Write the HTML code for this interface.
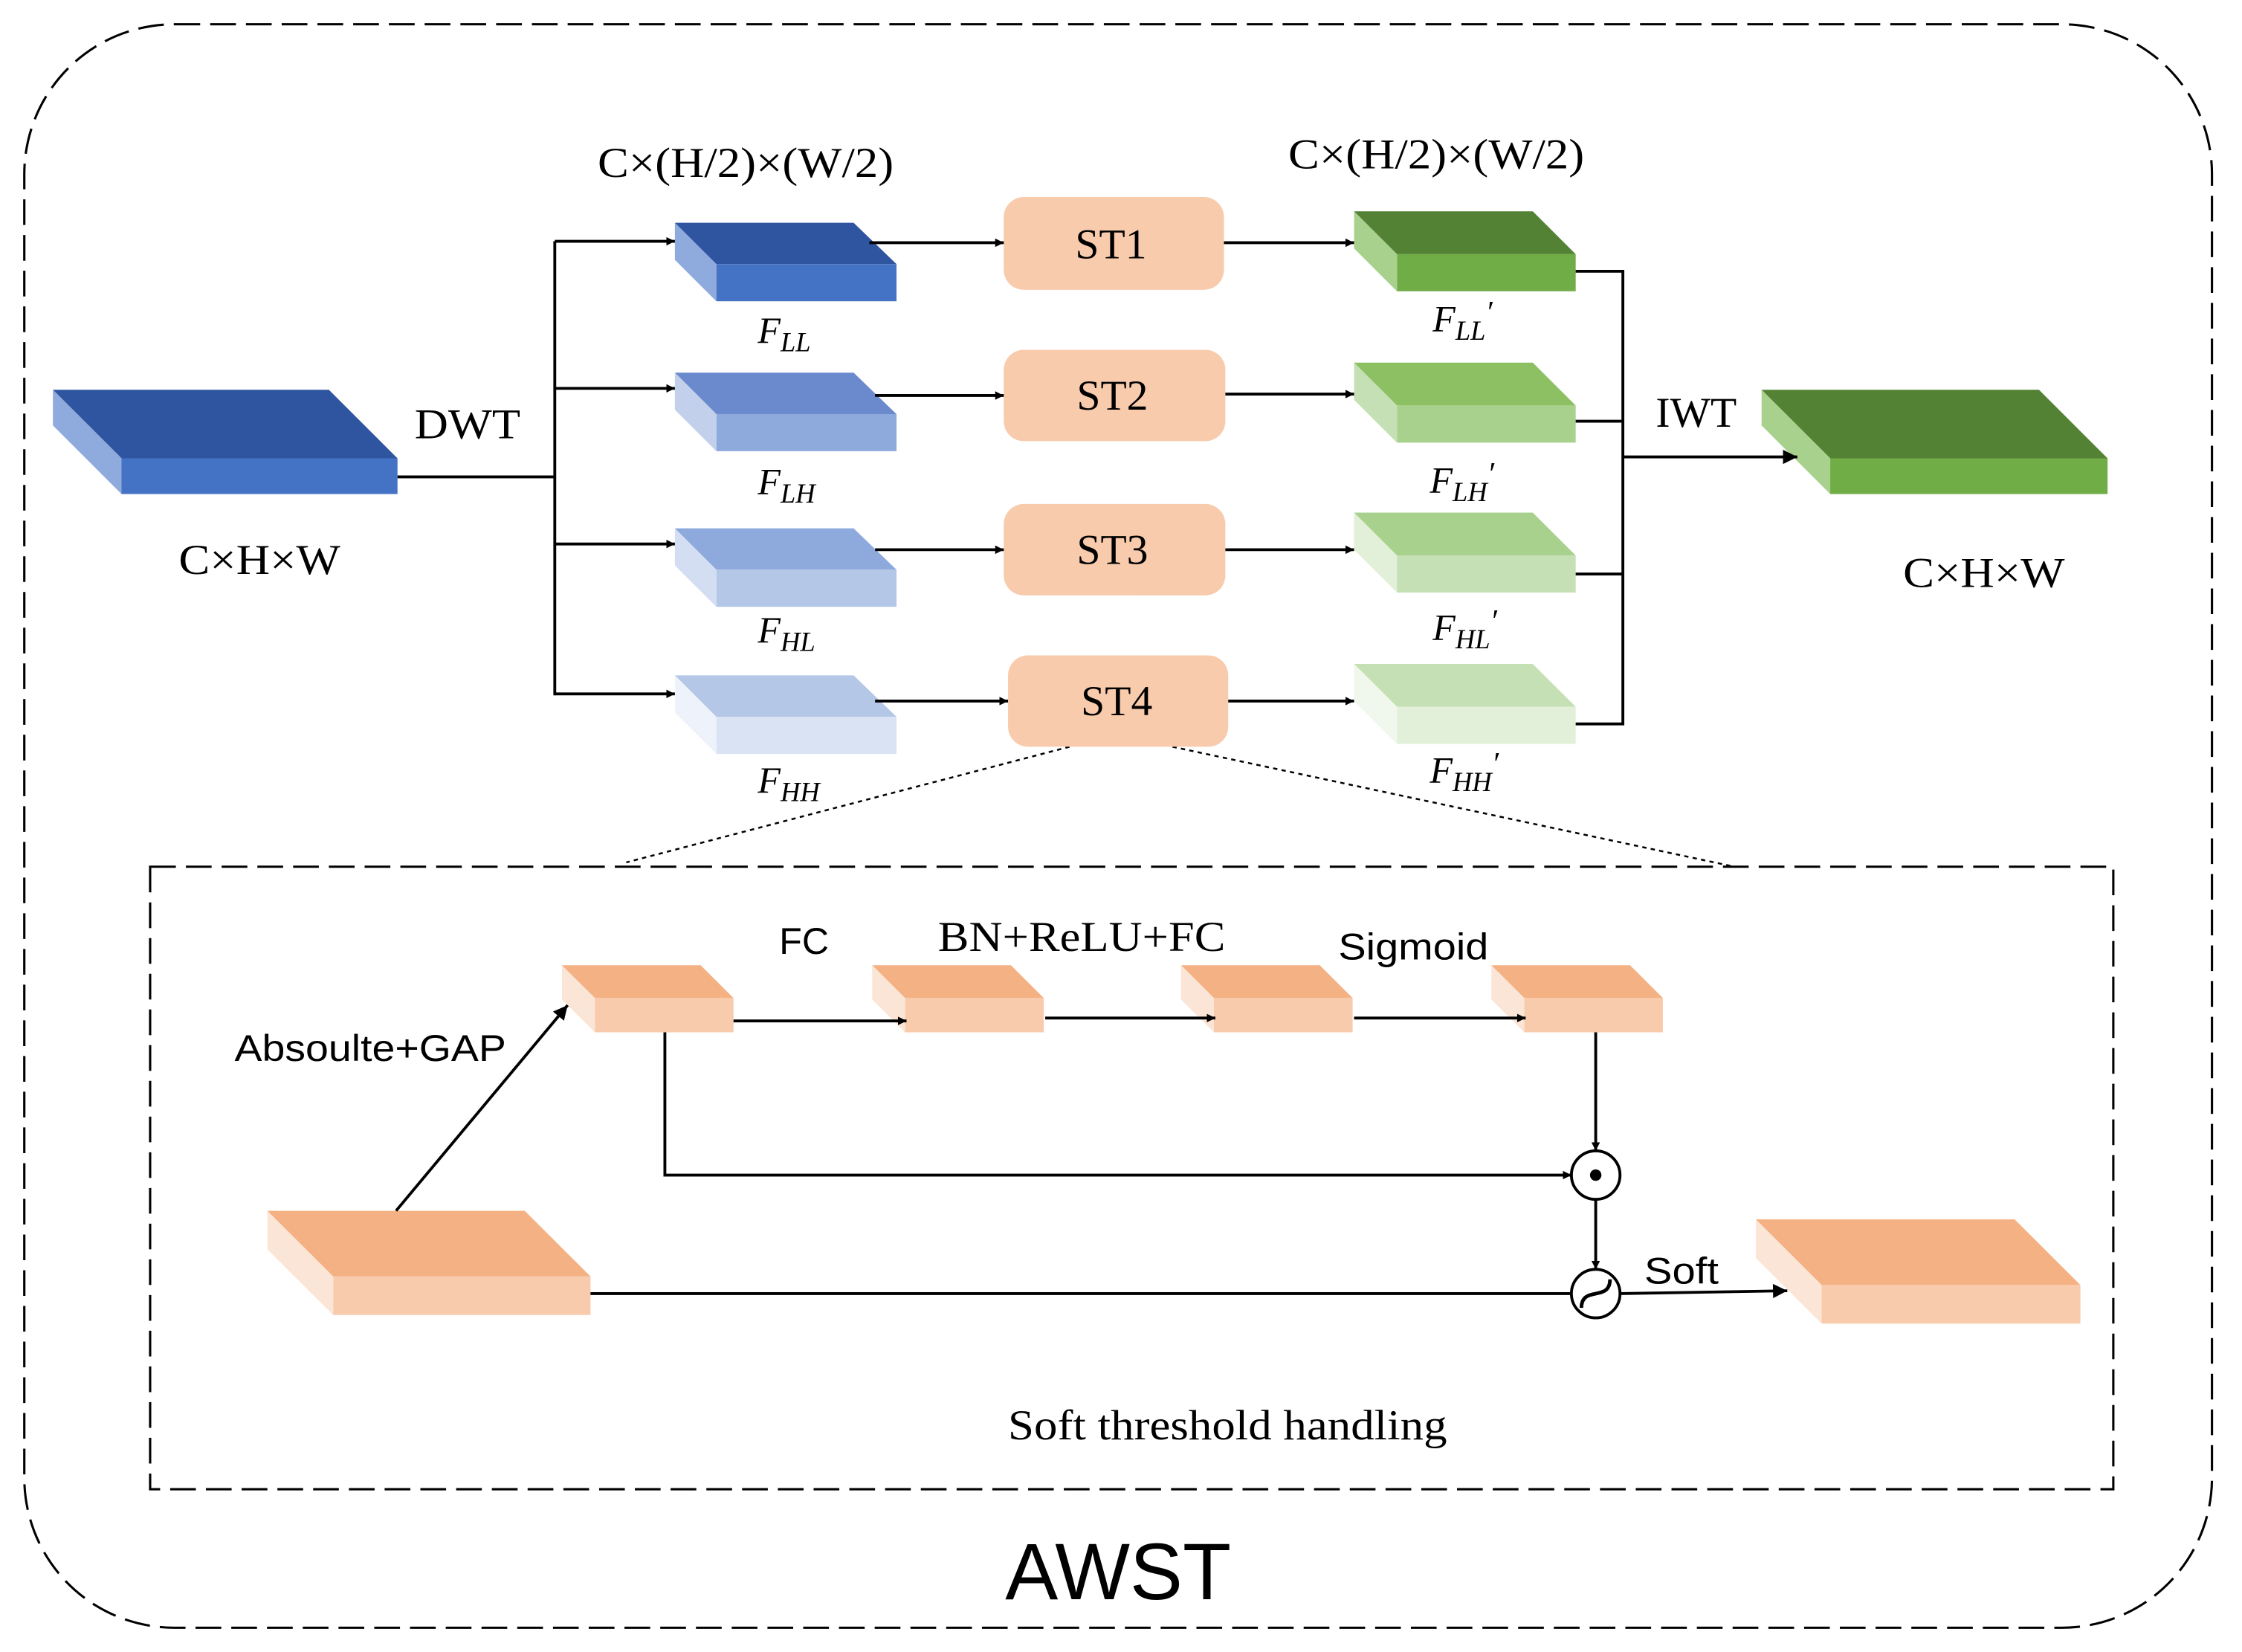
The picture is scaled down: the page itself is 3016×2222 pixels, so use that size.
<!DOCTYPE html>
<html><head><meta charset="utf-8"><style>html,body{margin:0;padding:0;background:#fff}svg{display:block}</style></head>
<body>
<svg width="3016" height="2222" viewBox="0 0 1568 1157" preserveAspectRatio="none" xmlns="http://www.w3.org/2000/svg">
<defs>
<marker id="a" viewBox="0 0 10 10" refX="10" refY="5" markerWidth="6" markerHeight="6" orient="auto" markerUnits="userSpaceOnUse"><path d="M0,0 L10,5 L0,10 z" fill="#000"/></marker>
<marker id="b" viewBox="0 0 10 10" refX="10" refY="5" markerWidth="12" markerHeight="10" orient="auto" markerUnits="userSpaceOnUse"><path d="M0,0 L10,5 L0,10 z" fill="#000"/></marker>
</defs>
<rect x="17" y="17" width="1530" height="1123" rx="105" fill="none" stroke="#000" stroke-width="1.6" stroke-dasharray="18,7"/>
<rect x="105" y="607" width="1373" height="436" fill="none" stroke="#000" stroke-width="1.6" stroke-dasharray="18,7"/>
<line x1="748" y1="523" x2="438" y2="604" stroke="#000" stroke-width="1.3" stroke-dasharray="3,3"/>
<line x1="820" y1="523" x2="1213" y2="607" stroke="#000" stroke-width="1.3" stroke-dasharray="3,3"/>

<g><polygon points="37,273 230,273 278,321 85,321" fill="#2f55a0"/><rect x="85" y="321" width="193" height="25" fill="#4472c4"/><polygon points="37,273 85,321 85,346 37,298" fill="#8faadc"/></g>
<g><polygon points="472,156 597,156 627,185 501,185" fill="#2f55a0"/><rect x="501" y="185" width="126" height="26" fill="#4472c4"/><polygon points="472,156 501,185 501,211 472,182" fill="#8faadc"/></g>
<g><polygon points="472,261 597,261 627,290 501,290" fill="#6a8acd"/><rect x="501" y="290" width="126" height="26" fill="#8eaadc"/><polygon points="472,261 501,290 501,316 472,287" fill="#c3d0ec"/></g>
<g><polygon points="472,370 597,370 627,399 501,399" fill="#8eaadc"/><rect x="501" y="399" width="126" height="26" fill="#b4c7e7"/><polygon points="472,370 501,399 501,425 472,396" fill="#d4def2"/></g>
<g><polygon points="472,473 597,473 627,502 501,502" fill="#b4c7e7"/><rect x="501" y="502" width="126" height="26" fill="#dae3f3"/><polygon points="472,473 501,502 501,528 472,499" fill="#eef2fa"/></g>
<g><polygon points="947,148 1072,148 1102,178 977,178" fill="#548235"/><rect x="977" y="178" width="125" height="26" fill="#70ad47"/><polygon points="947,148 977,178 977,204 947,174" fill="#a9d18e"/></g>
<g><polygon points="947,254 1072,254 1102,284 977,284" fill="#8cc063"/><rect x="977" y="284" width="125" height="26" fill="#a9d18e"/><polygon points="947,254 977,284 977,310 947,280" fill="#c5e0b4"/></g>
<g><polygon points="947,359 1072,359 1102,389 977,389" fill="#a9d18e"/><rect x="977" y="389" width="125" height="26" fill="#c5e0b4"/><polygon points="947,359 977,389 977,415 947,385" fill="#e2efd9"/></g>
<g><polygon points="947,465 1072,465 1102,495 977,495" fill="#c5e0b4"/><rect x="977" y="495" width="125" height="26" fill="#e2efd9"/><polygon points="947,465 977,495 977,521 947,491" fill="#f0f7ec"/></g>
<g><polygon points="1232,273 1426,273 1474,321 1280,321" fill="#548235"/><rect x="1280" y="321" width="194" height="25" fill="#70ad47"/><polygon points="1232,273 1280,321 1280,346 1232,298" fill="#a9d18e"/></g>

<g fill="#f8cbad"><rect x="702" y="138" width="154" height="65" rx="14"/><rect x="702" y="245" width="155" height="64" rx="14"/><rect x="702" y="353" width="155" height="64" rx="14"/><rect x="705" y="459" width="154" height="64" rx="14"/></g>

<g stroke="#000" stroke-width="2" fill="none">
<line x1="278" y1="334" x2="388" y2="334"/>
<line x1="388" y1="169" x2="388" y2="487"/>
<line x1="388" y1="169" x2="472" y2="169" marker-end="url(#a)"/>
<line x1="388" y1="272" x2="472" y2="272" marker-end="url(#a)"/>
<line x1="388" y1="381" x2="472" y2="381" marker-end="url(#a)"/>
<line x1="388" y1="486" x2="472" y2="486" marker-end="url(#a)"/>
<line x1="608" y1="170" x2="702" y2="170" marker-end="url(#a)"/>
<line x1="612" y1="277" x2="702" y2="277" marker-end="url(#a)"/>
<line x1="612" y1="385" x2="702" y2="385" marker-end="url(#a)"/>
<line x1="612" y1="491" x2="705" y2="491" marker-end="url(#a)"/>
<line x1="856" y1="170" x2="947" y2="170" marker-end="url(#a)"/>
<line x1="857" y1="276" x2="947" y2="276" marker-end="url(#a)"/>
<line x1="857" y1="385" x2="947" y2="385" marker-end="url(#a)"/>
<line x1="859" y1="491" x2="947" y2="491" marker-end="url(#a)"/>
<polyline points="1102,190 1135,190 1135,507 1102,507"/>
<line x1="1102" y1="295" x2="1135" y2="295"/>
<line x1="1102" y1="402" x2="1135" y2="402"/>
<line x1="1135" y1="320" x2="1257" y2="320" marker-end="url(#b)"/>
</g>

<g><polygon points="393,676 490,676 513,699 416,699" fill="#f4b183"/><rect x="416" y="699" width="97" height="24" fill="#f8cbad"/><polygon points="393,676 416,699 416,723 393,700" fill="#fbe5d6"/></g>
<g><polygon points="610,676 707,676 730,699 633,699" fill="#f4b183"/><rect x="633" y="699" width="97" height="24" fill="#f8cbad"/><polygon points="610,676 633,699 633,723 610,700" fill="#fbe5d6"/></g>
<g><polygon points="826,676 923,676 946,699 849,699" fill="#f4b183"/><rect x="849" y="699" width="97" height="24" fill="#f8cbad"/><polygon points="826,676 849,699 849,723 826,700" fill="#fbe5d6"/></g>
<g><polygon points="1043,676 1140,676 1163,699 1066,699" fill="#f4b183"/><rect x="1066" y="699" width="97" height="24" fill="#f8cbad"/><polygon points="1043,676 1066,699 1066,723 1043,700" fill="#fbe5d6"/></g>
<g><polygon points="187,848 367,848 413,894 233,894" fill="#f4b183"/><rect x="233" y="894" width="180" height="27" fill="#f8cbad"/><polygon points="187,848 233,894 233,921 187,875" fill="#fbe5d6"/></g>
<g><polygon points="1228,854 1409,854 1455,900 1274,900" fill="#f4b183"/><rect x="1274" y="900" width="181" height="27" fill="#f8cbad"/><polygon points="1228,854 1274,900 1274,927 1228,881" fill="#fbe5d6"/></g>

<g stroke="#000" stroke-width="2" fill="none">
<line x1="513" y1="715" x2="634" y2="715" marker-end="url(#a)"/>
<line x1="731" y1="713" x2="850" y2="713" marker-end="url(#a)"/>
<line x1="947" y1="713" x2="1067" y2="713" marker-end="url(#a)"/>
<line x1="277" y1="848" x2="397" y2="704" marker-end="url(#b)"/>
<polyline points="465,723 465,823 1099,823" marker-end="url(#a)"/>
<line x1="1116" y1="723" x2="1116" y2="806" marker-end="url(#a)"/>
<line x1="1116" y1="840" x2="1116" y2="889" marker-end="url(#a)"/>
<line x1="413" y1="906" x2="1099" y2="906"/>
<line x1="1133" y1="906" x2="1250" y2="904" marker-end="url(#b)"/>
<circle cx="1116" cy="823" r="17"/>
<circle cx="1116" cy="906" r="17"/>
<path d="M1106,916 C1106,900 1126,912 1126,896" stroke-width="2.5"/>
</g>
<circle cx="1116" cy="823" r="4" fill="#000"/>

<g font-family="Liberation Serif, serif" font-size="30" fill="#000">
<text x="418" y="124" textLength="207" lengthAdjust="spacingAndGlyphs">C×(H/2)×(W/2)</text>
<text x="901" y="118" textLength="207" lengthAdjust="spacingAndGlyphs">C×(H/2)×(W/2)</text>
<text x="290" y="307" textLength="74" lengthAdjust="spacingAndGlyphs">DWT</text>
<text x="1158" y="299">IWT</text>
<text x="125" y="402" textLength="113" lengthAdjust="spacingAndGlyphs">C×H×W</text>
<text x="1331" y="411" textLength="113" lengthAdjust="spacingAndGlyphs">C×H×W</text>
<text x="656" y="666" textLength="201" lengthAdjust="spacingAndGlyphs">BN+ReLU+FC</text>
<text x="705" y="1008" textLength="307" lengthAdjust="spacingAndGlyphs">Soft threshold handling</text>
</g>
<g font-family="Liberation Serif, serif" font-style="italic" font-size="26" fill="#000">
<text x="530" y="240">F<tspan font-size="19" dy="6">LL</tspan></text>
<text x="530" y="346">F<tspan font-size="19" dy="6">LH</tspan></text>
<text x="530" y="450">F<tspan font-size="19" dy="6">HL</tspan></text>
<text x="530" y="555">F<tspan font-size="19" dy="6">HH</tspan></text>
<text x="1002" y="232">F<tspan font-size="19" dy="6">LL</tspan><tspan dy="-12" font-size="22">′</tspan></text>
<text x="1000" y="345">F<tspan font-size="19" dy="6">LH</tspan><tspan dy="-12" font-size="22">′</tspan></text>
<text x="1002" y="448">F<tspan font-size="19" dy="6">HL</tspan><tspan dy="-12" font-size="22">′</tspan></text>
<text x="1000" y="548">F<tspan font-size="19" dy="6">HH</tspan><tspan dy="-12" font-size="22">′</tspan></text>
</g>
<g font-family="Liberation Serif, serif" font-size="30" fill="#000">
<text x="752" y="181">ST1</text>
<text x="753" y="287">ST2</text>
<text x="753" y="395">ST3</text>
<text x="756" y="501">ST4</text>
</g>
<g font-family="Liberation Sans, sans-serif" font-size="26" fill="#000">
<text x="545" y="668">FC</text>
<text x="936" y="672" textLength="105" lengthAdjust="spacingAndGlyphs">Sigmoid</text>
<text x="164" y="743" textLength="190" lengthAdjust="spacingAndGlyphs">Absoulte+GAP</text>
<text x="1150" y="899" textLength="52" lengthAdjust="spacingAndGlyphs">Soft</text>
<text x="703" y="1120" font-size="56" textLength="158" lengthAdjust="spacingAndGlyphs">AWST</text>
</g>
</svg>
</body></html>
